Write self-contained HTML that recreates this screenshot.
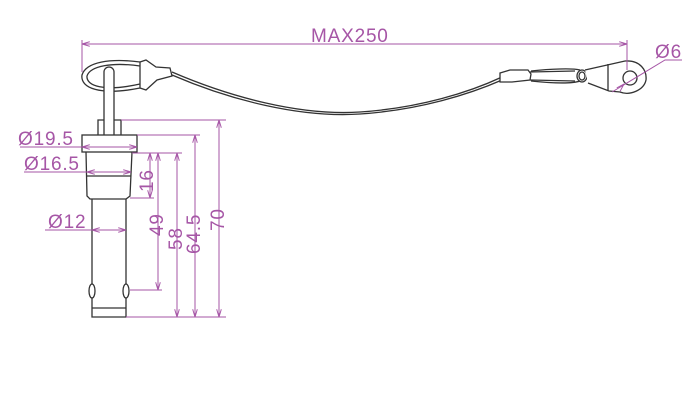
<!DOCTYPE html>
<html><head><style>body{margin:0;background:#fff}svg{display:block}</style></head><body>
<svg width="700" height="410" viewBox="0 0 700 410" xmlns="http://www.w3.org/2000/svg">
<defs><marker id="a" viewBox="0 0 10 6" refX="10" refY="3" markerWidth="8" markerHeight="5" orient="auto-start-reverse"><path d="M0,0 L10,3 L0,6" fill="none" stroke="#a656a6" stroke-width="1.2"/></marker></defs>
<g fill="none" stroke="#333" stroke-width="1.3">
<path d="M140,62 C110,58 86,62 82,75 C80,88 100,96 140,88"/>
<path d="M140,66 C112,62 90,66 87,76 C86,86 104,92 140,84"/>
<path d="M140,62 L146,60 L156,67 L170,68 L172,76 L157,80 L146,90 L140,88 Z" fill="#fff"/>
<path d="M172,72 C230,97 300,116 360,112 C420,108 470,92 502,77"/>
<path d="M172,75 C230,100 300,118 360,114 C420,110 470,94 502,80"/>
<path d="M500,73 L510,70 L528,70 L531,74 L530,80 L512,82 L500,82 Z" fill="#fff"/>
<path d="M530,72 L575,71 M530,80 L575,81"/>
<path d="M531,71 C550,69 572,68 580,70 M531,81 C550,83 572,84 580,81"/>
<ellipse cx="582" cy="76" rx="5" ry="6"/><ellipse cx="582" cy="76" rx="3" ry="4"/>
<path d="M585,70 L625,61 C640,60 647,70 646,80 C644,90 630,96 620,92 L609,91 L588,83" fill="#fff"/>
<line x1="608" y1="64" x2="608" y2="91"/>
<circle cx="630" cy="78" r="7"/>
<rect x="104" y="67" width="10" height="80" rx="5" fill="#fff"/>
<path d="M98,135 L98,120 L104,120 M114,120 L121,120 L121,135"/>
<rect x="82" y="135" width="55" height="17" fill="#fff"/>
<path d="M86,152 L87,196 L90,199 L126,199 L130,196 L132,152"/>
<line x1="87" y1="176" x2="131" y2="176"/>
<path d="M92,199 L92,317 L126,317 L126,199"/>
<line x1="92" y1="308" x2="126" y2="308"/>
<ellipse cx="92" cy="291" rx="3" ry="7" fill="#fff"/><ellipse cx="126" cy="291" rx="3" ry="7" fill="#fff"/>
</g>
<g fill="none" stroke="#a656a6" stroke-width="1">
<line x1="82" y1="44" x2="627" y2="44" marker-start="url(#a)" marker-end="url(#a)"/>
<line x1="82" y1="40" x2="82" y2="72"/><line x1="627" y1="40" x2="627" y2="70"/>
<path d="M612,92 L665,60 L682,60"/><line x1="622" y1="86" x2="624" y2="84" marker-end="url(#a)"/>
<line x1="121" y1="120" x2="226" y2="120"/><line x1="126" y1="317" x2="226" y2="317"/>
<line x1="137" y1="135" x2="200" y2="135"/><line x1="132" y1="153" x2="182" y2="153"/>
<line x1="130" y1="198" x2="154" y2="198"/><line x1="130" y1="290" x2="162" y2="290"/>
<line x1="219" y1="120" x2="219" y2="317" marker-start="url(#a)" marker-end="url(#a)"/>
<line x1="195" y1="135" x2="195" y2="317" marker-start="url(#a)" marker-end="url(#a)"/>
<line x1="177" y1="153" x2="177" y2="317" marker-start="url(#a)" marker-end="url(#a)"/>
<line x1="158" y1="153" x2="158" y2="290" marker-start="url(#a)" marker-end="url(#a)"/>
<line x1="150" y1="153" x2="150" y2="198" marker-start="url(#a)" marker-end="url(#a)"/>
<line x1="20" y1="147" x2="82" y2="147"/><line x1="82" y1="147" x2="137" y2="147" marker-start="url(#a)" marker-end="url(#a)"/>
<line x1="24" y1="172" x2="87" y2="172"/><line x1="87" y1="172" x2="131" y2="172" marker-start="url(#a)" marker-end="url(#a)"/>
<line x1="45" y1="230" x2="92" y2="230"/><line x1="92" y1="230" x2="126" y2="230" marker-start="url(#a)" marker-end="url(#a)"/>
</g>
<g fill="#a656a6" font-family="Liberation Sans, sans-serif" font-size="19" letter-spacing="0.8">
<text x="311" y="42">MAX250</text>
<text x="655" y="58">Ø6</text>
<text x="18" y="145">Ø19.5</text>
<text x="24" y="170">Ø16.5</text>
<text x="48" y="228">Ø12</text>
<text transform="translate(153,192) rotate(-90)">16</text>
<text transform="translate(163,236) rotate(-90)">49</text>
<text transform="translate(182,250) rotate(-90)">58</text>
<text transform="translate(200,254) rotate(-90)">64.5</text>
<text transform="translate(224,231) rotate(-90)">70</text>
</g>
</svg>
</body></html>
